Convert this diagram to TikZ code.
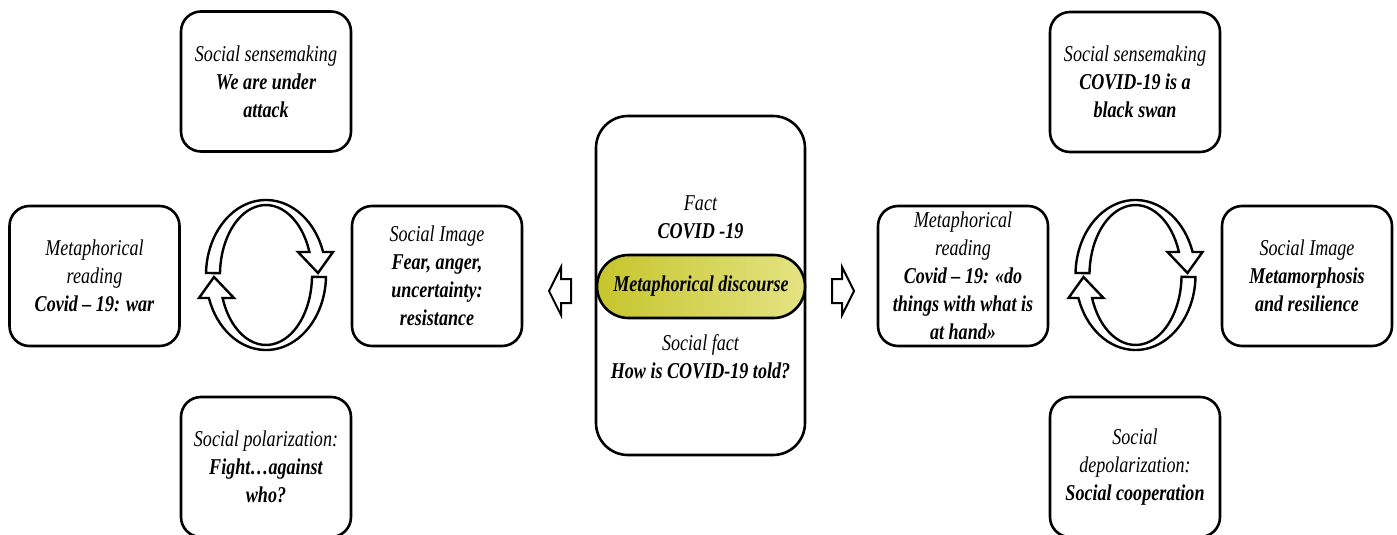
\documentclass[tikz,border=0pt]{standalone}
\usepackage{fontspec}
\setmainfont{Liberation Serif}[FakeStretch=0.8]
\definecolor{discdark}{HTML}{C6C52C}
\definecolor{disclight}{HTML}{E4E383}
% one half of the turning loop, centred on the origin
\newcommand{\halfloop}{(178.5:60 and 75) arc[start angle=178.5, end angle=17.9, x radius=60, y radius=75]
  -- (67,23) -- (52,2) -- (32,23) -- (43.4,23)
  arc[start angle=19.2, end angle=178.4, x radius=46, y radius=70] -- cycle}
\begin{document}
\begin{tikzpicture}[x=0.5pt,y=0.5pt]
\tikzstyle{every node}+=[inner sep=0pt, align=center, font=\itshape\fontsize{11.3}{14}\selectfont]
\tikzstyle{card}=[draw, line width=1.3pt, rounded corners=10pt, minimum width=85pt, minimum height=70pt]
\tikzstyle{loopband}=[draw, fill=white, line width=1.2pt, line join=miter]
\tikzstyle{blockarrow}=[draw, fill=white, line width=1pt, line join=miter]
\useasboundingbox (0,0) rectangle (1397,-535);
% left cycle
\node[card] (warsense) at (266,-81.5) {Social sensemaking\\\textbf{We are under}\\\textbf{attack}};
\node[card] (warread) at (94.5,-276) {Metaphorical\\reading\\\textbf{Covid – 19: war}};
\node[card] (warimage) at (437,-276) {Social Image\\\textbf{Fear, anger,}\\\textbf{uncertainty:}\\\textbf{resistance}};
\node[card] (warpolar) at (266,-467) {Social polarization:\\\textbf{Fight…against}\\\textbf{who?}};
\begin{scope}[shift={(266,-275)}]
\draw[loopband] \halfloop;
\end{scope}
\begin{scope}[shift={(266,-275)}, rotate=180]
\draw[loopband] \halfloop;
\end{scope}
% centre
\node[card, rounded corners=16pt, minimum width=104.5pt, minimum height=169.5pt] (fact) at (700.5,-285.5) {};
\node (facttext) at (700.5,-217) {Fact\\\textbf{COVID -19}};
\node[draw, line width=1.3pt, rounded corners=15.75pt, minimum width=104pt, minimum height=31.5pt,
  left color=discdark, middle color=discdark!90!disclight, right color=disclight,
  font=\bfseries\itshape\fontsize{11.3}{14}\selectfont] (disc) at (701,-286.5) {Metaphorical discourse};
\node (socfact) at (700.5,-357) {Social fact\\\textbf{How is COVID-19 told?}};
\draw[blockarrow] (549,-291) -- (561,-267) -- (561,-279) -- (571,-279) -- (571,-303) -- (561,-303) -- (561,-315) -- cycle;
\draw[blockarrow] (854,-291) -- (842,-267) -- (842,-279) -- (832,-279) -- (832,-303) -- (842,-303) -- (842,-315) -- cycle;
% right cycle
\node[card] (swansense) at (1135,-82) {Social sensemaking\\\textbf{COVID-19 is a}\\\textbf{black swan}};
\node[card] (swanread) at (963,-276) {Metaphorical\\reading\\\textbf{Covid – 19: «do}\\\textbf{things with what is}\\\textbf{at hand»}};
\node[card] (swanimage) at (1307,-276) {Social Image\\\textbf{Metamorphosis}\\\textbf{and resilience}};
\node[card] (swanpolar) at (1135,-467) {Social\\depolarization:\\\textbf{Social cooperation}};
\begin{scope}[shift={(1135.5,-275)}]
\draw[loopband] \halfloop;
\end{scope}
\begin{scope}[shift={(1135.5,-275)}, rotate=180]
\draw[loopband] \halfloop;
\end{scope}
\end{tikzpicture}
\end{document}
